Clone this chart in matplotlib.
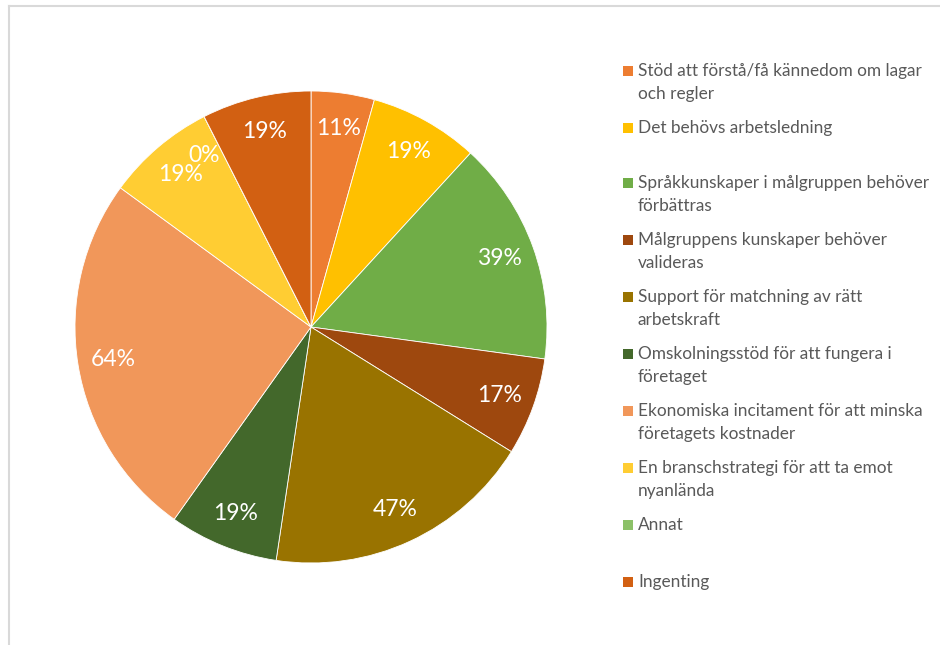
import matplotlib
matplotlib.use("Agg")
import matplotlib.pyplot as plt
from matplotlib.patches import Rectangle
from matplotlib.lines import Line2D

plt.rcParams['font.family'] = ['Lato', 'DejaVu Sans']

# survey answers, share of respondents (%)
categories = [
    "Stöd att förstå/få kännedom om lagar\noch regler",
    "Det behövs arbetsledning",
    "Språkkunskaper i målgruppen behöver\nförbättras",
    "Målgruppens kunskaper behöver\nvalideras",
    "Support för matchning av rätt\narbetskraft",
    "Omskolningsstöd för att fungera i\nföretaget",
    "Ekonomiska incitament för att minska\nföretagets kostnader",
    "En branschstrategi för att ta emot\nnyanlända",
    "Annat",
    "Ingenting",
]
values = [11, 19, 39, 17, 47, 19, 64, 19, 0, 19]
colors = ["#ED7D31", "#FFC000", "#70AD47", "#9E480E", "#997300",
          "#43682B", "#F1975A", "#FFCD33", "#8CC168", "#D26012"]

W, H = 940, 645
fig = plt.figure(figsize=(W / 100, H / 100), dpi=100)

# pie centre (311, 327) px, radius 236 px
cx, cy, r = 311, 327, 236
ax = fig.add_axes([(cx - r) / W, (H - cy - r) / H, 2 * r / W, 2 * r / H])

total = sum(values)
wedges, _, autotexts = ax.pie(
    values, colors=colors, startangle=90, counterclock=False,
    autopct=lambda p: f"{round(p * total / 100)}%", pctdistance=0.85,
    wedgeprops=dict(edgecolor="white", linewidth=0.6),
    textprops=dict(color="white", fontsize=16.5),
)
ax.set_xlim(-1, 1)
ax.set_ylim(-1, 1)
ax.set_aspect("equal")

# the empty "Annat" label sits a bit left of its zero-width slice
x8, y8 = autotexts[8].get_position()
autotexts[8].set_position((x8 - 0.07, y8 - 0.03))

# legend drawn by hand, 23 px between wrapped lines
legend_y = [71, 128, 183, 240, 297, 354, 411, 468, 525, 582]
for y, lab, col in zip(legend_y, categories, colors):
    fig.add_artist(Rectangle((623 / W, 1 - (y + 5) / H), 10 / W, 10 / H,
                             facecolor=col, edgecolor="none",
                             transform=fig.transFigure))
    for k, line in enumerate(lab.split("\n")):
        fig.text(638 / W, 1 - (y + 23 * k) / H, line, color="#595959",
                 fontsize=12.4, va="center", ha="left")

# chart area frame
fig.add_artist(Line2D([8.5 / W, 8.5 / W], [0, 1 - 5.5 / H], color="#D9D9D9",
                      linewidth=1.5, transform=fig.transFigure))
fig.add_artist(Line2D([8.5 / W, 1], [1 - 5.5 / H, 1 - 5.5 / H], color="#D9D9D9",
                      linewidth=1.5, transform=fig.transFigure))

fig.savefig("out.png", dpi=100)
